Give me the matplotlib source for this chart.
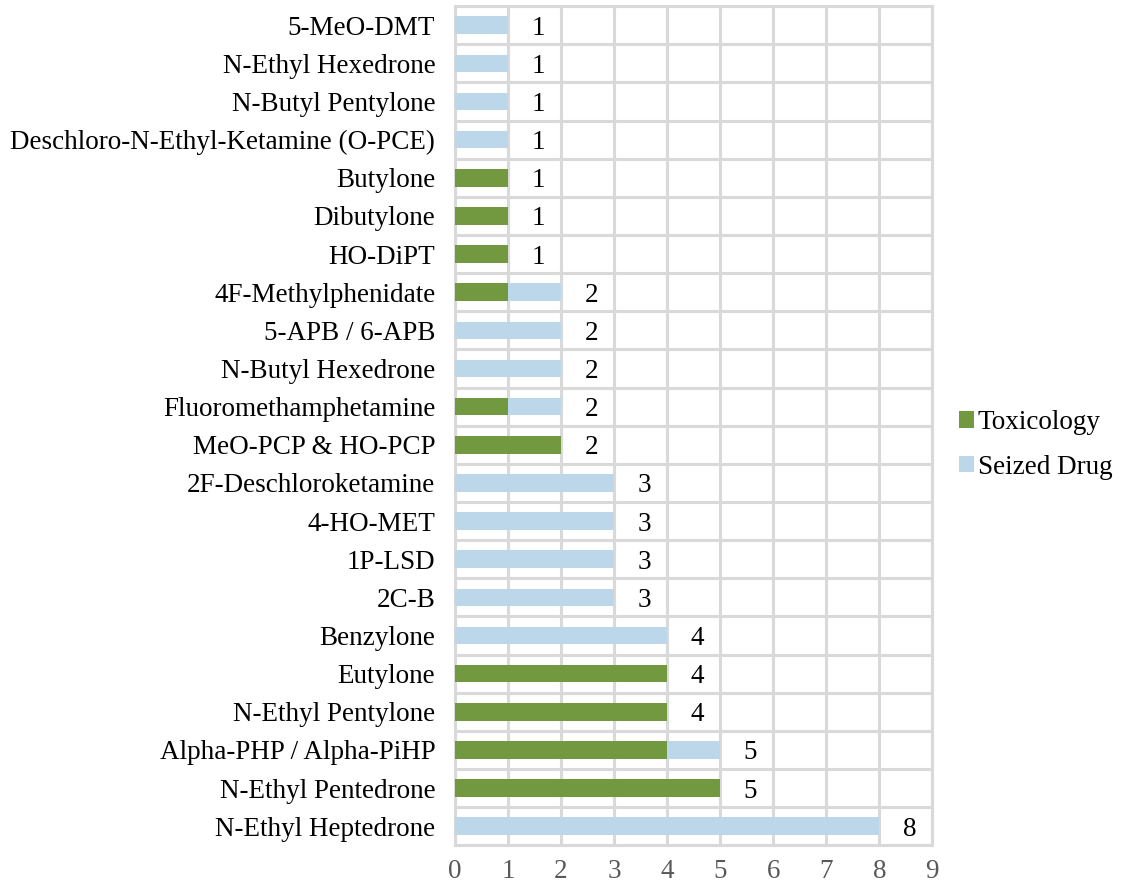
import numpy as np
import matplotlib.pyplot as plt

plt.rcParams["font.family"] = ["Liberation Serif", "DejaVu Serif"]

# categories listed bottom to top
drugs = [
    "N-Ethyl Heptedrone", "N-Ethyl Pentedrone", "Alpha-PHP / Alpha-PiHP",
    "N-Ethyl Pentylone", "Eutylone", "Benzylone", "2C-B", "1P-LSD",
    "4-HO-MET", "2F-Deschloroketamine", "MeO-PCP & HO-PCP",
    "Fluoromethamphetamine", "N-Butyl Hexedrone", "5-APB / 6-APB",
    "4F-Methylphenidate", "HO-DiPT", "Dibutylone", "Butylone",
    "Deschloro-N-Ethyl-Ketamine (O-PCE)", "N-Butyl Pentylone",
    "N-Ethyl Hexedrone", "5-MeO-DMT",
]
toxicology = [0, 5, 4, 4, 4, 0, 0, 0, 0, 0, 2, 1, 0, 0, 1, 1, 1, 1, 0, 0, 0, 0]
seized = [8, 0, 1, 0, 0, 4, 3, 3, 3, 3, 0, 1, 2, 2, 1, 0, 0, 0, 1, 1, 1, 1]

green = "#72993f"
blue = "#bdd7ea"
grid = "#d9d9d9"
fs = 19.5

fig = plt.figure(figsize=(11.37, 8.86), dpi=100)
ax = fig.add_axes([0.400, 0.046, 0.420, 0.947])

y = np.arange(len(drugs))
h = 0.46
ax.barh(y, toxicology, height=h, color=green, label="Toxicology", zorder=3)
ax.barh(y, seized, height=h, left=toxicology, color=blue, label="Seized Drug", zorder=3)

totals = np.array(toxicology) + np.array(seized)
for yi, t in zip(y, totals):
    ax.annotate(str(t), (t, yi), xytext=(17, 0), textcoords="offset points",
                va="center_baseline", ha="left", fontsize=fs, color="black")

ax.set_xlim(0, 9)
ax.set_ylim(-0.5, len(drugs) - 0.5)
ax.set_xticks(range(10))
ax.set_yticks(y)
ax.set_yticklabels(drugs, fontsize=fs)
ax.tick_params(axis="x", labelsize=fs, colors="#595959", length=0, pad=10)
ax.tick_params(axis="y", length=0, pad=14)

# vertical gridlines at each tick, horizontal ones between rows
ax.set_yticks(np.arange(-0.5, len(drugs), 1), minor=True)
ax.grid(axis="x", color=grid, linewidth=2.2, zorder=0)
ax.grid(axis="y", which="minor", color=grid, linewidth=2.2, zorder=0)
ax.tick_params(axis="y", which="minor", length=0)
for s in ax.spines.values():
    s.set_color(grid)
    s.set_linewidth(2.2)

fig.legend(loc="center left", bbox_to_anchor=(0.822, 0.498), frameon=False,
           fontsize=fs, handlelength=0.55, handleheight=0.55, handletextpad=0.15,
           labelspacing=0.72)

fig.savefig("out.png", dpi=100)
